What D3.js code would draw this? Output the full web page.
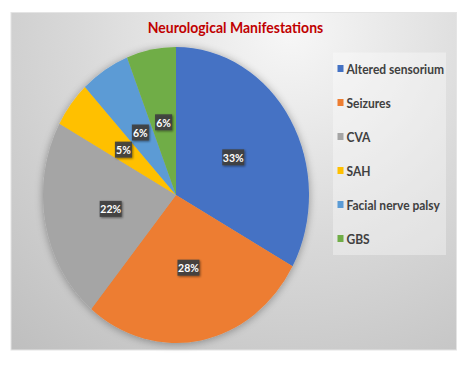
<!DOCTYPE html>
<html><head><meta charset="utf-8">
<script src="https://cdn.jsdelivr.net/npm/d3@7"></script>
<style>html,body{margin:0;padding:0;background:#fff;}svg{display:block;}</style>
</head><body>
<script>
const categories = ["Altered sensorium","Seizures","CVA","SAH","Facial nerve palsy","GBS"];
const values = [33, 28, 22, 5, 6, 6];
const colors = ["#4472C4","#ED7D31","#A5A5A5","#FFC000","#5B9BD5","#70AD47"];
const title = "Neurological Manifestations";

const W = 466, H = 365;
const svg = d3.select("body").append("svg").attr("width", W).attr("height", H);
const defs = svg.append("defs");
const rg = defs.append("radialGradient").attr("id","bg")
  .attr("gradientUnits","userSpaceOnUse").attr("cx",290).attr("cy",30).attr("r",420);
rg.append("stop").attr("offset","0").attr("stop-color","#f7f7f7");
rg.append("stop").attr("offset","0.5").attr("stop-color","#d9d9d9");
rg.append("stop").attr("offset","1").attr("stop-color","#bfbfbf");

const sh = defs.append("filter").attr("id","shadow").attr("x","-20%").attr("y","-20%").attr("width","140%").attr("height","140%");
sh.append("feGaussianBlur").attr("in","SourceAlpha").attr("stdDeviation",4).attr("result","b");
sh.append("feOffset").attr("in","b").attr("dx",0).attr("dy",1).attr("result","o");
sh.append("feComponentTransfer").attr("in","o").attr("result","o2")
  .append("feFuncA").attr("type","linear").attr("slope",0.35);
const m = sh.append("feMerge");
m.append("feMergeNode").attr("in","o2");
m.append("feMergeNode").attr("in","SourceGraphic");

const lsh = defs.append("filter").attr("id","lshadow").attr("x","-30%").attr("y","-30%").attr("width","160%").attr("height","160%");
lsh.append("feGaussianBlur").attr("in","SourceAlpha").attr("stdDeviation",1).attr("result","b");
lsh.append("feOffset").attr("in","b").attr("dx",1).attr("dy",1).attr("result","o");
lsh.append("feComponentTransfer").attr("in","o").attr("result","o2")
  .append("feFuncA").attr("type","linear").attr("slope",0.5);
const m2 = lsh.append("feMerge");
m2.append("feMergeNode").attr("in","o2");
m2.append("feMergeNode").attr("in","SourceGraphic");

// chart area
svg.append("rect").attr("x",11).attr("y",12.5).attr("width",445.5).attr("height",337.5)
  .attr("fill","url(#bg)").attr("stroke","#e4e4e4").attr("stroke-width",1);

const sy = 148/133;
const font = "Lato, 'Open Sans', sans-serif";

svg.append("text").attr("transform",`translate(235.5,33) scale(1,${sy})`)
  .attr("text-anchor","middle").attr("font-family",font).attr("font-weight","bold")
  .attr("font-size",14).attr("fill","#C00000").text(title);

// legend box
svg.append("rect").attr("x",333).attr("y",52.5).attr("width",113).attr("height",202.5)
  .attr("fill","#ffffff").attr("fill-opacity",0.35);

const cx = 176, cy = 195, r = 133;
const pie = d3.pie().value(d => d).sort(null);
const arcs = pie(values);
const arc = d3.arc().innerRadius(0).outerRadius(r);
const g = svg.append("g").attr("transform",`translate(${cx},${cy}) scale(1,${sy})`)
  .attr("filter","url(#shadow)");
g.selectAll("path").data(arcs).join("path")
  .attr("d", arc).attr("fill",(d,i)=>colors[i]);

const labels = svg.append("g");
arcs.forEach((d,i) => {
  const [x,y] = arc.centroid(d);
  const px = cx + x, py = cy + y*sy;
  const txt = Math.round(values[i]) + "%";
  const lg = labels.append("g").attr("transform",`translate(${px},${py})`);
  const bw = txt.length === 3 ? 22 : 17;
  lg.append("rect").attr("x",-bw/2).attr("y",-8).attr("width",bw).attr("height",16)
    .attr("fill","#404040").attr("fill-opacity",0.92).attr("filter","url(#lshadow)");
  lg.append("text").attr("transform",`scale(1,${sy})`).attr("text-anchor","middle").attr("dy","0.36em")
    .attr("font-family",font).attr("font-weight","bold").attr("font-size",10.5)
    .attr("fill","#ffffff").text(txt);
});

const leg = svg.append("g");
categories.forEach((c,i) => {
  const y = 69 + i*34;
  leg.append("rect").attr("x",337.5).attr("y",y-4).attr("width",6).attr("height",7).attr("fill",colors[i]);
  leg.append("text").attr("transform",`translate(346.5,${y+4.5}) scale(1,${sy})`)
    .attr("font-family",font).attr("font-weight","bold").attr("font-size",12)
    .attr("fill","#404040").text(c);
});
</script>
</body></html>
